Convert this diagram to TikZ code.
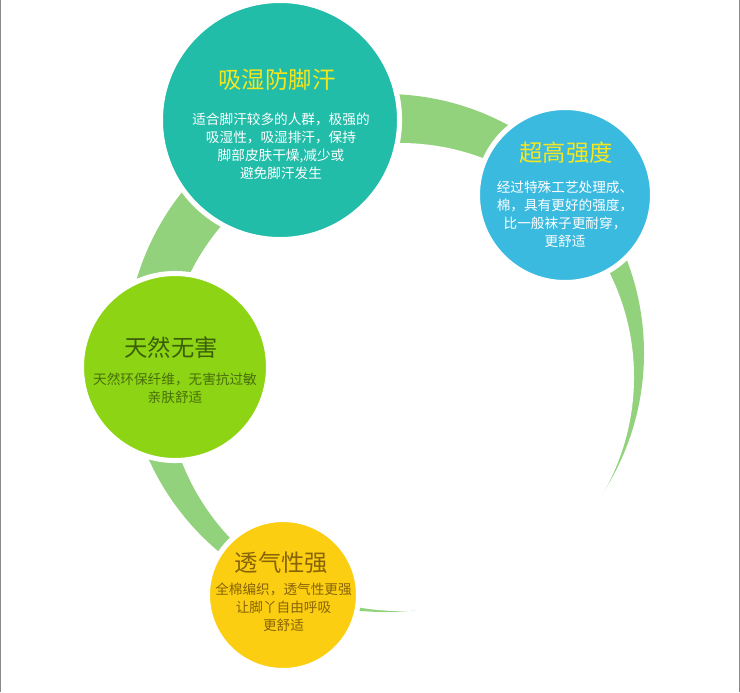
\documentclass[tikz,border=0pt]{standalone}
\usepackage{fontspec}
\setmainfont{Noto Sans CJK SC}
\usetikzlibrary{calc}

\definecolor{ringgreen}{HTML}{92D27D}
\definecolor{tealc}{HTML}{21BDA8}
\definecolor{bluec}{HTML}{3BBAE0}
\definecolor{leafc}{HTML}{8DD414}
\definecolor{sunc}{HTML}{FCCE12}
\definecolor{headyellow}{HTML}{F5E61E}
\definecolor{leafdark}{HTML}{3C5F0A}
\definecolor{sundark}{HTML}{876408}
\definecolor{edgegray}{HTML}{8A8A8A}

\begin{document}
\begin{tikzpicture}[
    x=0.025cm, y=-0.025cm,
    disc/.style={circle, draw=white, line width=3.6pt, inner sep=0pt},
    headtext/.style={inner sep=0pt, font=\fontsize{16.6}{20}\selectfont},
    bodytext/.style={inner sep=0pt, align=center, font=\fontsize{9.7}{12.8}\selectfont}
]
    \useasboundingbox (0,0) rectangle (740,692);
    \draw[edgegray, line width=0.6pt] (0.5,0) -- (0.5,692) (739.5,0) -- (739.5,692);

    % open ring behind the circles: green disc, white disc set off to the lower right
    \fill[ringgreen] (385,353) circle (259);
    \fill[white] (400,377) circle (234);

    \node[disc, fill=tealc, minimum size=5.975cm] (dry) at (280,120) {};
    \node[disc, fill=bluec, minimum size=4.375cm] (tough) at (565,195) {};
    \node[disc, fill=leafc, minimum size=4.675cm] (safe) at (175,367) {};
    \node[disc, fill=sunc, minimum size=3.775cm] (air) at (283,595) {};

    \node[headtext, headyellow] (dryhead) at ($(dry)+(-3,-40)$) {吸湿防脚汗};
    \node[bodytext, white] (drytext) at ($(dry)+(1,26)$) {适合脚汗较多的人群，极强的\\吸湿性，吸湿排汗，保持\\脚部皮肤干燥,减少或\\避免脚汗发生};

    \node[headtext, headyellow] (toughhead) at ($(tough)+(1,-42)$) {超高强度};
    \node[bodytext, white] (toughtext) at ($(tough)+(0,19.5)$) {经过特殊工艺处理成、\\棉，具有更好的强度，\\比一般袜子更耐穿，\\更舒适};

    \node[headtext, leafdark] (safehead) at ($(safe)+(-4,-19)$) {天然无害};
    \node[bodytext, leafdark!85!leafc] (safetext) at ($(safe)+(0,21.5)$) {天然环保纤维，无害抗过敏\\亲肤舒适};

    \node[headtext, sundark] (airhead) at ($(air)+(-1.5,-32)$) {透气性强};
    \node[bodytext, sundark] (airtext) at ($(air)+(0.5,12)$) {全棉编织，透气性更强\\让脚丫自由呼吸\\更舒适};
\end{tikzpicture}
\end{document}
